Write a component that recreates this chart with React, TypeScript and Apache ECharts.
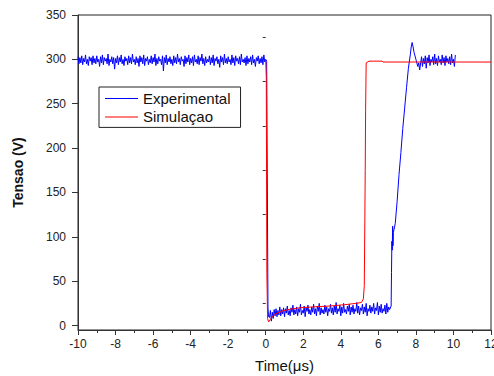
import React, { useEffect, useRef } from "react";
import * as echarts from "echarts";

// ---- data ----
const xTicks = [-10, -8, -6, -4, -2, 0, 2, 4, 6, 8, 10, 12];
const yTicks = [0, 50, 100, 150, 200, 250, 300, 350];
const yMinorTicks = [25, 75, 125, 175, 225, 275, 325];

// Experimental samples are 0.05 µs apart inside each flat stretch
const expStep = 0.05;

// high level, t = -10.00 … 0.00
const expHighStart = -10;
const expHigh = [
  303, 295, 302, 296, 304, 294, 301, 297, 305, 295, 300, 293, 303, 298, 302, 294, 304, 296, 301, 295,
  304, 297, 300, 292, 303, 296, 305, 294, 302, 298, 301, 295, 306, 293, 300, 297, 303, 295, 302, 289,
  301, 296, 304, 294, 302, 297, 305, 295, 300, 293, 303, 298, 301, 294, 304, 296, 302, 295, 306, 297,
  300, 294, 303, 296, 301, 292, 304, 297, 302, 295, 305, 293, 301, 298, 303, 294, 300, 296, 304, 295,
  302, 297, 306, 293, 301, 295, 303, 298, 300, 294, 304, 287, 302, 296, 305, 294, 301, 297, 303, 295,
  300, 293, 304, 296, 302, 295, 306, 297, 301, 294, 303, 298, 300, 292, 304, 295, 302, 297, 305, 294,
  301, 296, 303, 293, 305, 297, 300, 295, 304, 294, 302, 298, 306, 295, 301, 293, 303, 296, 300, 297,
  304, 294, 302, 296, 305, 293, 301, 298, 303, 295, 300, 291, 304, 297, 302, 294, 306, 296, 301, 295,
  303, 297, 300, 294, 305, 296, 302, 293, 304, 298, 301, 295, 303, 294, 306, 297, 300, 296, 302, 293,
  304, 295, 301, 297, 303, 294, 305, 296, 300, 292, 302, 298, 304, 295, 301, 296, 303, 294, 305, 297,
  300,
];
const expDrop: [number, number][] = [
  [0.05, 298],
  [0.12, 20],
  [0.15, 10],
];
// low level, t = 0.20 … 6.60
const expLowStart = 0.2;
const expLow = [
  9, 17, 5, 15, 8, 18, 11,
  19, 10, 17, 12, 21, 11, 18, 13, 20, 10, 19, 14, 22, 12, 17, 11, 20, 15, 23, 12,
  18, 13, 21, 11, 19, 15, 24, 12, 17, 14, 22, 10, 20, 16, 23, 13, 18, 12, 21, 15,
  24, 13, 19, 11, 22, 16, 25, 12, 20, 14, 18, 13, 23, 15, 21, 11, 19, 16, 24, 14,
  20, 12, 22, 15, 26, 13, 19, 16, 23, 11, 21, 14, 25, 15, 18, 13, 22, 16, 24, 12,
  21, 15, 23, 13, 19, 16, 26, 14, 22, 12, 20, 17, 24, 13, 21, 15, 25, 11, 19, 16,
  23, 14, 21, 16, 25, 13, 20, 17, 26, 12, 22, 15, 24, 14, 19, 16, 23, 13, 25, 15, 21, 18,
];
const expRise: [number, number][] = [
  [6.68, 22], [6.7, 60], [6.72, 95], [6.74, 85], [6.76, 112], [6.78, 90],
  [6.8, 105], [6.9, 115], [7.0, 140], [7.1, 170], [7.2, 195], [7.3, 222],
  [7.4, 245], [7.5, 268], [7.6, 290], [7.7, 305], [7.75, 314], [7.8, 319],
  [7.85, 314], [7.9, 308], [8.0, 300], [8.1, 292], [8.15, 296], [8.2, 288],
];
// settled level, t = 8.30 … 10.10
const expSettleStart = 8.3;
const expSettle = [
  303, 292, 301, 295, 304, 290, 302, 296, 305, 293, 300, 297, 303, 294, 306, 295, 301, 293, 304,
  297, 300, 294, 305, 296, 302, 293, 304, 297, 301, 295, 303, 294, 306, 296, 300, 292, 305,
];

const simPoints: [number, number][] = [
  [0.0, 298], [0.03, 280], [0.06, 60], [0.1, 8], [0.15, 4],
  [0.25, 7], [0.4, 11], [0.6, 14], [0.9, 16.5], [1.3, 18.5], [1.8, 20],
  [2.5, 21], [3.4, 22], [4.2, 23.5], [4.8, 25], [5.1, 26], [5.2, 30],
  [5.25, 45], [5.28, 120], [5.3, 175], [5.32, 242], [5.35, 296], [5.5, 298],
  [6.2, 298], [6.25, 297], [12, 297],
];

const r2 = (v: number) => Math.round(v * 100) / 100;

function buildExperimental(): [number, number][] {
  const out: [number, number][] = [];
  expHigh.forEach((v, i) => out.push([r2(expHighStart + i * expStep), v]));
  expDrop.forEach((p) => out.push(p));
  expLow.forEach((v, i) => out.push([r2(expLowStart + i * expStep), v]));
  expRise.forEach((p) => out.push(p));
  expSettle.forEach((v, i) => out.push([r2(expSettleStart + i * expStep), v]));
  return out;
}

const FONT = "'Liberation Sans', Arial, sans-serif";

export default function App() {
  const ref = useRef<HTMLDivElement>(null);
  useEffect(() => {
    if (!ref.current) return;
    const chart = echarts.init(ref.current, null, { renderer: "svg" });
    const axisColor = "#333";
    chart.setOption({
      animation: false,
      backgroundColor: "#fff",
      textStyle: { fontFamily: FONT },
      grid: {
        left: 78,
        right: 3,
        top: 15,
        bottom: 46,
        containLabel: false,
        outerBoundsMode: "none",
        show: true,
        borderColor: "#222",
        borderWidth: 1,
        backgroundColor: "transparent",
      },
      legend: {
        orient: "vertical",
        left: 99,
        top: 87,
        padding: [4, 10, 3, 6],
        icon: "rect",
        itemWidth: 33,
        itemHeight: 1,
        itemGap: 3.4,
        itemStyle: { borderWidth: 0 },
        borderColor: "#222",
        borderWidth: 1,
        textStyle: { fontFamily: FONT, fontSize: 15, lineHeight: 14, color: "#111" },
        data: ["Experimental", "Simulaçao"],
      },
      xAxis: {
        type: "value",
        min: -10,
        max: 12,
        interval: 2,
        name: "Time(μs)",
        nameLocation: "middle",
        nameGap: 28,
        nameTextStyle: { fontFamily: FONT, fontSize: 15, color: "#111" },
        axisLine: { onZero: false, lineStyle: { color: axisColor, width: 1 } },
        axisTick: { show: true, length: 5, lineStyle: { color: axisColor } },
        minorTick: { show: true, splitNumber: 2, length: 3, lineStyle: { color: axisColor } },
        axisLabel: {
          fontFamily: FONT,
          fontSize: 12,
          color: "#222",
          margin: 8,
          customValues: xTicks,
        },
        splitLine: { show: false },
      },
      yAxis: [
        {
          type: "value",
          min: -5,
          max: 350,
          name: "Tensao (V)",
          nameLocation: "middle",
          nameGap: 53,
          nameTextStyle: { fontFamily: FONT, fontSize: 14, fontWeight: "bold", color: "#111" },
          axisLine: { show: true, onZero: false, lineStyle: { color: axisColor } },
          axisTick: { show: true, length: 6, customValues: yTicks, lineStyle: { color: axisColor } },
          axisLabel: {
            fontFamily: FONT,
            fontSize: 12,
            color: "#222",
            margin: 12,
            customValues: yTicks,
          },
          splitLine: { show: false },
        },
        {
          type: "value",
          min: -5,
          max: 350,
          position: "left",
          axisLine: { show: false },
          axisTick: { show: true, length: 3, customValues: yMinorTicks, lineStyle: { color: axisColor } },
          axisLabel: { show: false },
          splitLine: { show: false },
        },
      ],
      series: [
        {
          name: "Experimental",
          type: "line",
          yAxisIndex: 0,
          data: buildExperimental(),
          symbol: "none",
          lineStyle: { color: "#0000ff", width: 1 },
          itemStyle: { color: "#0000ff" },
        },
        {
          name: "Simulaçao",
          type: "line",
          yAxisIndex: 0,
          data: simPoints,
          symbol: "none",
          lineStyle: { color: "#ff0000", width: 1 },
          itemStyle: { color: "#ff0000" },
        },
      ],
    });
    return () => chart.dispose();
  }, []);
  return (
    <div
      ref={ref}
      style={{ position: "absolute", left: 0, top: 0, width: 494, height: 376 }}
    />
  );
}
